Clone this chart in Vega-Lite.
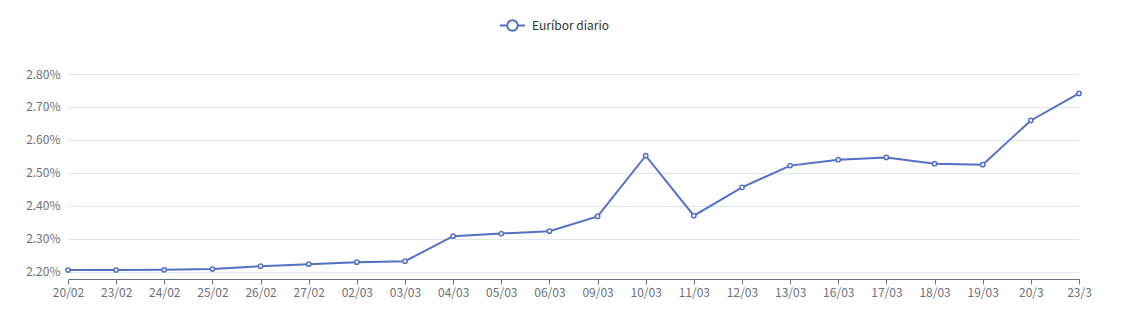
{
  "$schema": "https://vega.github.io/schema/vega-lite/v6.json",
  "autosize": {"type": "none"},
  "width": 1011,
  "height": 205,
  "padding": {"left": 68, "top": 74, "right": 43, "bottom": 39},
  "background": "#ffffff",
  "config": {
    "font": "Noto Sans CJK SC",
    "view": {"stroke": null}
  },
  "data": {
    "values": [
      {"fecha": "20/02", "valor": 2.205, "serie": "Euríbor diario"},
      {"fecha": "23/02", "valor": 2.205, "serie": "Euríbor diario"},
      {"fecha": "24/02", "valor": 2.206, "serie": "Euríbor diario"},
      {"fecha": "25/02", "valor": 2.208, "serie": "Euríbor diario"},
      {"fecha": "26/02", "valor": 2.217, "serie": "Euríbor diario"},
      {"fecha": "27/02", "valor": 2.223, "serie": "Euríbor diario"},
      {"fecha": "02/03", "valor": 2.229, "serie": "Euríbor diario"},
      {"fecha": "03/03", "valor": 2.232, "serie": "Euríbor diario"},
      {"fecha": "04/03", "valor": 2.308, "serie": "Euríbor diario"},
      {"fecha": "05/03", "valor": 2.316, "serie": "Euríbor diario"},
      {"fecha": "06/03", "valor": 2.323, "serie": "Euríbor diario"},
      {"fecha": "09/03", "valor": 2.368, "serie": "Euríbor diario"},
      {"fecha": "10/03", "valor": 2.552, "serie": "Euríbor diario"},
      {"fecha": "11/03", "valor": 2.370, "serie": "Euríbor diario"},
      {"fecha": "12/03", "valor": 2.456, "serie": "Euríbor diario"},
      {"fecha": "13/03", "valor": 2.522, "serie": "Euríbor diario"},
      {"fecha": "16/03", "valor": 2.540, "serie": "Euríbor diario"},
      {"fecha": "17/03", "valor": 2.547, "serie": "Euríbor diario"},
      {"fecha": "18/03", "valor": 2.528, "serie": "Euríbor diario"},
      {"fecha": "19/03", "valor": 2.525, "serie": "Euríbor diario"},
      {"fecha": "20/3", "valor": 2.659, "serie": "Euríbor diario"},
      {"fecha": "23/3", "valor": 2.741, "serie": "Euríbor diario"}
    ]
  },
  "encoding": {
    "x": {
      "field": "fecha",
      "type": "ordinal",
      "sort": null,
      "scale": {"type": "point", "padding": 0},
      "axis": {
        "title": null,
        "labelAngle": 0,
        "labelColor": "#6E7079",
        "labelFontSize": 12,
        "labelPadding": 3,
        "domainColor": "#6E7079",
        "tickColor": "#6E7079",
        "tickSize": 5,
        "grid": false
      }
    },
    "y": {
      "field": "valor",
      "type": "quantitative",
      "scale": {"domain": [2.178, 2.8], "nice": false, "zero": false},
      "axis": {
        "title": null,
        "values": [2.2, 2.3, 2.4, 2.5, 2.6, 2.7, 2.8],
        "labelExpr": "format(datum.value, '.2f') + '%'",
        "labelColor": "#6E7079",
        "labelFontSize": 12,
        "labelPadding": 8,
        "domain": false,
        "ticks": false,
        "grid": true,
        "gridColor": "#E0E6F1",
        "gridWidth": 1
      }
    }
  },
  "layer": [
    {
      "mark": {"type": "line", "strokeWidth": 2},
      "encoding": {
        "color": {
          "field": "serie",
          "type": "nominal",
          "scale": {"range": ["#5470C6"]},
          "legend": {
            "title": null,
            "orient": "none",
            "legendX": 431,
            "legendY": -62,
            "symbolType": "M-1,0L-0.42,0M0.42,0L1,0M0.42,0A0.42,0.42,0,1,1,-0.42,0A0.42,0.42,0,1,1,0.42,0Z",
            "symbolSize": 625,
            "symbolStrokeWidth": 2,
            "symbolStrokeColor": "#5470C6",
            "symbolFillColor": "#ffffff",
            "labelFontSize": 12,
            "labelColor": "#333333",
            "labelOffset": 6
          }
        }
      }
    },
    {
      "mark": {"type": "point", "filled": true, "fill": "#ffffff", "stroke": "#5470C6", "strokeWidth": 1.5, "size": 18, "opacity": 1}
    }
  ]
}
